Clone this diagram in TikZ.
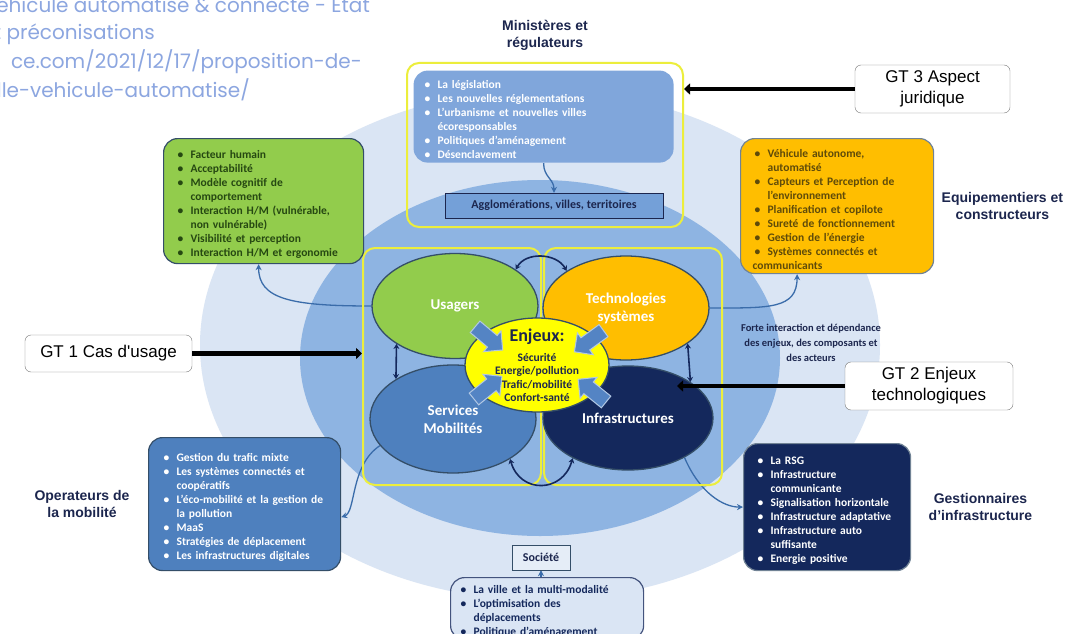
\documentclass[tikz,border=0pt]{standalone}
\usepackage{fontspec}
\setmainfont{Carlito}
\newfontfamily\arialfont{Liberation Sans}
\newfontfamily\webfont{Poppins}
\usetikzlibrary{shapes,arrows.meta,positioning,backgrounds}

\definecolor{paleblue}{RGB}{218,229,244}
\definecolor{midblue}{RGB}{142,180,226}
\definecolor{minblue}{RGB}{128,166,219}
\definecolor{agglblue}{RGB}{116,160,216}
\definecolor{usagergreen}{RGB}{146,204,76}
\definecolor{greentext}{RGB}{38,72,18}
\definecolor{techorange}{RGB}{255,190,0}
\definecolor{orangetext}{RGB}{95,75,10}
\definecolor{serviceblue}{RGB}{78,128,190}
\definecolor{infranavy}{RGB}{20,40,92}
\definecolor{enjeuxyellow}{RGB}{255,255,0}
\definecolor{ringline}{RGB}{52,78,104}
\definecolor{titlenavy}{RGB}{28,38,78}
\definecolor{frameyellow}{RGB}{236,238,60}
\definecolor{linkblue}{RGB}{58,108,170}
\definecolor{gtgray}{RGB}{120,120,120}
\definecolor{weblink}{RGB}{140,166,224}
\definecolor{pushblue}{RGB}{84,132,196}

\newcommand{\listfont}{\fontsize{11.5}{14}\selectfont\bfseries}
% bullet with hanging indent for the list boxes
\newcommand{\bitem}{\par\hangindent=15pt\hangafter=1\noindent\makebox[15pt][l]{\hspace{2pt}\textbullet}}

\tikzset{
  listbox/.style={rounded corners=14pt, line width=1.2pt, anchor=north west, align=left, font=\listfont, inner ysep=3pt},
  pole/.style={ellipse, draw=ringline, line width=1.3pt, inner sep=0pt, text=white, align=center,
    font=\fontsize{15}{18}\selectfont\bfseries},
  frame/.style={draw=frameyellow, line width=2pt, rounded corners=12pt},
  actor/.style={font=\arialfont\bfseries\fontsize{14}{17}\selectfont, text=titlenavy, align=center},
  gtbox/.style={draw=gtgray, fill=white, rounded corners=6pt, align=center,
    font=\arialfont\fontsize{17}{21}\selectfont},
  gtarrow/.style={line width=4.5pt, -{Triangle[length=6pt,width=11pt]}},
  link/.style={draw=linkblue, line width=1.3pt, -{Stealth[length=6pt,width=6pt]}},
  dlink/.style={draw=infranavy, line width=1.6pt, {Stealth[length=5pt,width=6pt]}-{Stealth[length=5pt,width=6pt]}},
  push/.style={single arrow, single arrow head extend=6pt, inner sep=7pt, minimum height=36pt,
    fill=pushblue, draw=white!55!pushblue, line width=1pt},
  webline/.style={anchor=base east, inner sep=0pt, text=weblink, font=\webfont\fontsize{20}{22}\selectfont}
}

\begin{document}
\begin{tikzpicture}[x=1pt,y=-1pt]
    \useasboundingbox (0,0) rectangle (1068,634);
    \clip (0,0) rectangle (1068,634);

    \begin{pgfonlayer}{background}
        \fill[white] (0,0) rectangle (1068,634);
        \fill[paleblue] (540,345) ellipse [x radius=340, y radius=255];
        \fill[midblue] (540,358) ellipse [x radius=240, y radius=178];
    \end{pgfonlayer}

    % caption of the web page, cut at the left edge
    \node[webline] (cap1) at (370,13) {Véhicule automatisé \& connecté - État};
    \node[webline] (cap2) at (155,40) {et préconisations};
    \node[webline] (cap3) at (362,69) {ce.com/2021/12/17/proposition-de-};
    \node[webline] (cap4) at (250,97) {lle-vehicule-automatise/};

    % ministeres
    \node[frame, minimum width=276, minimum height=164] (mframe) at (545,145) {};
    \node[actor, above=8pt of mframe] (ministeres) {Ministères et\\régulateurs};
    \node[listbox, fill=minblue, text=white, text width=242, inner xsep=9, minimum height=92] (politiques) at (413,70)
        {\bitem La législation
         \bitem Les nouvelles réglementations
         \bitem L’urbanisme et nouvelles villes\newline écoresponsables
         \bitem Politiques d’aménagement
         \bitem Désenclavement};
    \node[draw=titlenavy, fill=agglblue, minimum width=218, minimum height=25, text=titlenavy,
        font=\fontsize{12}{14}\selectfont\bfseries] (aggl) at (554,205.5) {Agglomérations, villes, territoires};

    % central frames and poles
    \node[frame, minimum width=178, minimum height=237] (lframe) at (452,366.5) {};
    \node[frame, minimum width=178, minimum height=237] (rframe) at (633,366.5) {};
    \node[pole, fill=usagergreen, minimum width=166, minimum height=105] (usagers) at (455,306) {Usagers};
    \node[pole, fill=techorange, minimum width=166, minimum height=104] (techno) at (626,308) {Technologies\\systèmes};
    \node[pole, fill=serviceblue, minimum width=166, minimum height=108] (services) at (453,419) {Services\\Mobilités};
    \node[pole, fill=infranavy, minimum width=170, minimum height=104] (infra) at (628,418) {Infrastructures};
    \node[pole, fill=enjeuxyellow, minimum width=144, minimum height=94] (enjeux) at (537,365) {};

    \node[push, rotate=-40] (pushul) at (486,336) {};
    \node[push, rotate=-144] (pushur) at (592,339) {};
    \node[push, rotate=39] (pushll) at (485,390) {};
    \node[push, rotate=141] (pushlr) at (595,393) {};

    \node[align=center, text=titlenavy, font=\fontsize{11.5}{13.3}\selectfont\bfseries] (enjeuxlabel) at (enjeux)
        {{\fontsize{18}{20}\selectfont Enjeux:}\\[7pt]Sécurité\\Energie/pollution\\Trafic/mobilité\\Confort-santé};

    \draw[dlink] (usagers.31) .. controls +(10,-18) and +(-10,-18) .. (techno.148);
    \draw[dlink] (services.-35) .. controls +(10,35) and +(-10,35) .. (infra.216);
    \draw[dlink] (usagers.213) -- (services.145);
    \draw[dlink] (techno.-30) -- (infra.30);

    % outer boxes
    \node[listbox, fill=usagergreen, draw=ringline, text=greentext, text width=176, inner xsep=12, minimum height=125] (facteurs) at (163,138)
        {\bitem Facteur humain
         \bitem Acceptabilité
         \bitem Modèle cognitif de\newline comportement
         \bitem Interaction H/M (vulnérable,\newline non vulnérable)
         \bitem Visibilité et perception
         \bitem Interaction H/M et ergonomie};
    \node[listbox, fill=techorange, draw=ringline!70, text=orangetext, text width=169, inner xsep=12, minimum height=135] (vehicules) at (740,138)
        {\bitem Véhicule autonome,\newline automatisé
         \bitem Capteurs et Perception de\newline l’environnement
         \bitem Planification et copilote
         \bitem Sureté de fonctionnement
         \bitem Gestion de l’énergie
         \bitem Systèmes connectés et\newline communicants};
    \node[actor, right=4pt of vehicules] (equip) {Equipementiers et\\constructeurs};

    \node[listbox, fill=serviceblue, draw=ringline, text=white, text width=166, inner xsep=13, minimum height=133] (mobilites) at (148,437)
        {\bitem Gestion du trafic mixte
         \bitem Les systèmes connectés et\newline coopératifs
         \bitem L’éco-mobilité et la gestion de\newline la pollution
         \bitem MaaS
         \bitem Stratégies de déplacement
         \bitem Les infrastructures digitales};
    \node[actor, left=15pt of mobilites] (operateurs) {Operateurs de\\la mobilité};

    \node[listbox, fill=infranavy, draw=ringline!70, text=white, text width=143, inner xsep=12, minimum height=127] (reseau) at (743,443)
        {\bitem La RSG
         \bitem Infrastructure\newline communicante
         \bitem Signalisation horizontale
         \bitem Infrastructure adaptative
         \bitem Infrastructure auto\newline suffisante
         \bitem Energie positive};
    \node[actor, right=14pt of reseau] (gestionnaires) {Gestionnaires\\d’infrastructure};

    \node[draw=ringline, fill=paleblue!70!white, minimum width=58, minimum height=25, text=titlenavy,
        font=\fontsize{12}{14}\selectfont\bfseries] (societe) at (541,557.5) {Société};
    \node[listbox, fill=paleblue, draw=infranavy!80, text=infranavy, text width=177, inner xsep=8, inner ysep=2] (societelist) at (450,577)
        {\bitem La ville et la multi-modalité
         \bitem L’optimisation des\newline déplacements
         \bitem Politique d’aménagement};

    \node[text=titlenavy, align=center, font=\fontsize{10.5}{15}\selectfont\bfseries] (forte) at (811,343)
        {Forte interaction et dépendance\\des enjeux, des composants et\\des acteurs};

    % links between the poles and the actors
    \begin{pgfonlayer}{background}
        \draw[link] (usagers.west) .. controls +(-80,0) and +(0,35) .. ([xshift=-5pt]facteurs.south);
        \draw[link] (techno.east) .. controls +(60,0) and +(0,35) .. ([xshift=-40pt]vehicules.south);
        \draw[link] (services.200) .. controls +(-30,20) and +(15,-5) .. ([yshift=-13pt]mobilites.east);
        \draw[link] (infra.-35) .. controls +(15,35) and +(-20,0) .. (reseau.west);
        \draw[link] (politiques.south) .. controls +(0,14) and +(0,-14) .. (aggl.north);
        \draw[link] (societelist.north -| societe.south) -- (societe.south);
    \end{pgfonlayer}

    % working groups
    \node[gtbox, minimum width=155, minimum height=48] (gtthree) at (932.5,89) {GT 3 Aspect\\juridique};
    \node[gtbox, minimum width=167, minimum height=37] (gtone) at (108.5,353.5) {GT 1 Cas d\textquotesingle usage};
    \node[gtbox, minimum width=168, minimum height=48] (gttwo) at (929,386) {GT 2 Enjeux\\technologiques};

    \draw[gtarrow] (gtthree.west) -- (mframe.east |- gtthree.west);
    \draw[gtarrow] (gtone.east) -- (lframe.west |- gtone.east);
    \draw[gtarrow] (gttwo.west) -- ([xshift=49pt]infra.center |- gttwo.west);
\end{tikzpicture}
\end{document}
